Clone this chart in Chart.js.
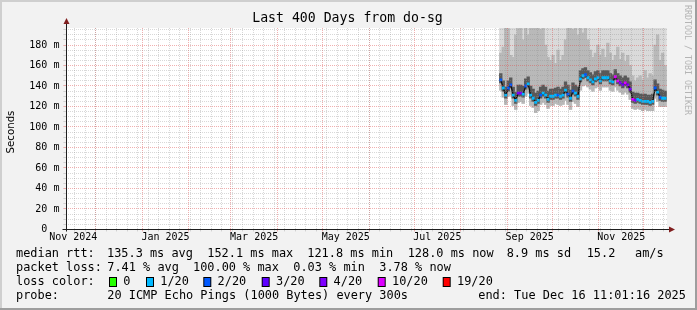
<!DOCTYPE html>
<html>
<head>
<meta charset="utf-8">
<script src="https://cdn.jsdelivr.net/npm/chart.js@4.4.1/dist/chart.umd.min.js"></script>
<style>
html, body { margin: 0; padding: 0; background: #f2f2f2; }
canvas { display: block; }
</style>
</head>
<body>
<canvas id="chart" width="697" height="310"></canvas>
<script>
// Last 400 days ending Tue Dec 16 11:01:16 2025
const endTime = Date.UTC(2025, 11, 16, 11, 1, 16);
const rangeDays = 400;
const DAY = 86400000;
const startTime = endTime - rangeDays * DAY;

// samples only exist from late Aug 2025 on (days since start of graph)
const sampleStart = 289.3;
const sampleStep = 1.658;

// median rtt (ms) per sample
const rttMedian = [146,138,131,138,141,131,126,133,133,132,140,142,131,128,124,126,131,133,131,127,
  130,130,131,131,130,131,136,132,128,135,133,130,147,150,151,148,146,144,147,148,145,148,148,148,145,
  144,149,145,143,141,143,141,137,127,126,127,126,125,125,125,124,125,138,134,129,128,128];
// fastest ping (bottom of smoke)
const rttLow = [136,129,122,130,131,121,117,124,125,123,130,133,121,119,114,116,122,124,122,118,
  121,121,123,122,121,122,126,122,117,125,123,120,136,140,141,139,137,135,138,139,136,139,139,139,136,
  135,139,136,134,132,134,132,127,118,117,118,117,116,117,116,116,116,128,125,120,120,120];
// dense smoke band around the median
const rttCoreLow = [143,135,128,135,138,128,123,130,130,129,137,139,128,125,121,123,128,130,128,124,
  127,127,128,128,127,128,133,129,125,132,130,127,144,147,148,145,143,141,144,145,142,145,145,145,142,
  141,146,142,140,138,140,138,134,124,123,124,123,122,122,122,121,122,135,131,126,125,125];
const rttCoreHigh = [152,145,139,145,148,139,134,141,141,140,147,149,140,137,133,135,139,141,139,135,
  137,137,138,139,137,139,144,141,136,143,141,139,155,157,158,155,153,151,154,155,152,155,155,155,152,
  151,156,152,150,148,150,148,144,134,133,133,132,132,132,131,131,132,146,142,137,136,135];
// upper edge of the medium smoke
const rttUpper = [172,178,200,196,170,168,190,196,200,185,200,190,200,200,200,200,195,200,180,168,
  165,170,162,175,165,170,185,200,200,195,200,190,200,192,198,185,175,168,172,180,170,176,168,182,172,
  165,170,178,166,172,164,170,160,150,145,148,150,146,155,148,152,150,180,190,165,172,160];
// slowest ping (clipped at the top)
const rttMax = [215,230,240,225,210,235,250,220,240,215,230,220,245,250,260,240,230,225,210,220,
  205,215,210,220,215,225,230,240,245,235,240,225,230,220,235,220,215,210,215,220,210,215,210,220,212,
  208,215,220,210,212,208,210,205,205,210,205,208,205,210,205,208,205,220,225,210,215,210];
// lost pings out of 20
const lossCount = [2,1,1,2,2,1,1,4,4,1,2,1,1,1,1,1,2,1,1,1,1,1,1,2,1,1,1,2,1,2,1,1,1,1,2,
  1,1,1,1,1,1,1,1,1,1,1,10,10,4,3,10,4,4,10,4,1,1,1,1,1,1,1,2,1,2,1,1];

const lossColors = {0: '#26ff00', 1: '#00b8ff', 2: '#0059ff', 3: '#5e00ff', 4: '#7e00ff', 10: '#dd00ff', 19: '#ff0000'};
const lossLegendKeys = [0, 1, 2, 3, 4, 10, 19];
const lossLegendLabels = ['0', '1/20', '2/20', '3/20', '4/20', '10/20', '19/20'];

const xLabelMonths = ['2024-11', '2025-01', '2025-03', '2025-05', '2025-07', '2025-09', '2025-11'];
const xLabels = ['Nov 2024', 'Jan 2025', 'Mar 2025', 'May 2025', 'Jul 2025', 'Sep 2025', 'Nov 2025'];
const yLabelStep = 20;
const yMinorStep = 5;
const yMax = 196.6;

const statsRtt = ['median rtt:', '135.3 ms avg', '152.1 ms max', '121.8 ms min', '128.0 ms now', '8.9 ms sd', '15.2', 'am/s'];
const statsLoss = ['packet loss:', '7.41 % avg', '100.00 % max', '0.03 % min', '3.78 % now'];
const probeText = ['probe:', '20 ICMP Echo Pings (1000 Bytes) every 300s', 'end: Tue Dec 16 11:01:16 2025'];

// ---- helpers
const toDay = t => (t - startTime) / DAY;

const gridTicks = [];
for (let y = 2024, m = 10; y < 2026; m++) {
    if (m > 11) { m = 0; y++; }
    const t = Date.UTC(y, m, 1);
    if (t > endTime) break;
    if (t >= startTime) gridTicks.push({value: toDay(t), isMajor: true});
}
for (let t = Date.UTC(2024, 10, 17); t < endTime; t += 7 * DAY) {
    gridTicks.push({value: toDay(t), isMajor: false});
}
gridTicks.sort((a, b) => a.value - b.value);

const labelTicks = xLabelMonths.map(s => {
    const [y, m] = s.split('-').map(Number);
    const a = Date.UTC(y, m - 1, 1), b = Date.UTC(y, m, 1);
    return {value: toDay((a + b) / 2)};
});

const yTicks = [];
for (let v = 0; v <= yMax; v += yMinorStep) yTicks.push({value: v, isMajor: v % yLabelStep === 0});

const sampleX = rttMedian.map((_, i) => sampleStart + i * sampleStep);
const band = (lo, hi) => sampleX.map((x, i) => ({x: x, y: [lo[i], hi[i]]}));

const gridColor = ctx => (ctx.tick && ctx.tick.isMajor) ? 'rgba(222,79,79,0.45)' : 'rgba(143,143,143,0.35)';
const MONO = 'DejaVu Sans Mono';

const decor = {
    id: 'rrdDecor',
    beforeDraw(chart) {
        const c = chart.ctx, ca = chart.chartArea, W = chart.width, H = chart.height;
        c.save();
        c.fillStyle = '#f2f2f2'; c.fillRect(0, 0, W, H);
        c.fillStyle = '#cfcfcf'; c.fillRect(0, 0, W, 2); c.fillRect(0, 0, 2, H);
        c.fillStyle = '#9e9e9e'; c.fillRect(W - 2, 0, 2, H); c.fillRect(0, H - 2, W, 2);
        c.fillStyle = '#ffffff'; c.fillRect(ca.left, ca.top, ca.right - ca.left, ca.bottom - ca.top);
        c.restore();
    },
    afterDraw(chart) {
        const c = chart.ctx, ca = chart.chartArea;
        const ax = Math.round(ca.left) + 0.5, ay = Math.round(ca.bottom) + 0.5;
        c.save();
        // axes
        c.strokeStyle = '#1f1f1f'; c.lineWidth = 1;
        c.beginPath();
        c.moveTo(ax, ay + 2); c.lineTo(ax, ca.top - 4);
        c.moveTo(ax - 4, ay); c.lineTo(ca.right + 3, ay);
        c.stroke();
        c.fillStyle = '#801f1f';
        c.beginPath(); c.moveTo(ax, ca.top - 10); c.lineTo(ax - 3, ca.top - 4); c.lineTo(ax + 3, ca.top - 4); c.closePath(); c.fill();
        c.beginPath(); c.moveTo(ca.right + 8, ay); c.lineTo(ca.right + 2, ay - 3); c.lineTo(ca.right + 2, ay + 3); c.closePath(); c.fill();

        // title
        c.fillStyle = '#000';
        c.textBaseline = 'middle';
        c.textAlign = 'center';
        c.font = '13.2px "' + MONO + '"';
        c.fillText('Last 400 Days from do-sg', 347.5, 19);

        // y title
        c.save();
        c.translate(11, 132); c.rotate(-Math.PI / 2);
        c.font = '10.2px "DejaVu Sans"';
        c.fillText('Seconds', 0, 0);
        c.restore();

        // watermark
        c.save();
        c.translate(687, 5); c.rotate(Math.PI / 2);
        c.textAlign = 'left';
        c.fillStyle = '#b4b4b4';
        c.font = '8.3px "' + MONO + '"';
        c.fillText('RRDTOOL / TOBI OETIKER', 0, 0);
        c.restore();

        // legend block
        c.textAlign = 'left';
        c.font = '11.9px "' + MONO + '"';
        const rttX = [16, 107, 207.3, 307.3, 407.7, 506.7, 586.7, 635];
        statsRtt.forEach((s, i) => c.fillText(s, rttX[i], 254.3));
        const lossX = [16, 107.3, 193, 293.3, 379.3];
        statsLoss.forEach((s, i) => c.fillText(s, lossX[i], 268.3));
        c.fillText('loss color:', 16, 282.3);
        const boxX = [109, 146, 203.3, 261.7, 319.3, 377.7, 442.7];
        lossLegendKeys.forEach((k, i) => {
            c.fillStyle = '#000';
            c.fillRect(boxX[i], 277, 8, 10);
            c.fillStyle = lossColors[k];
            c.fillRect(boxX[i] + 1, 278, 6, 8);
            c.fillStyle = '#000';
            c.fillText(lossLegendLabels[i], boxX[i] + 14.3, 282.3);
        });
        const probeX = [16, 107.3, 478.3];
        probeText.forEach((s, i) => c.fillText(s, probeX[i], 296));
        c.restore();
    }
};

Chart.defaults.font.family = MONO;

new Chart(document.getElementById('chart'), {
    type: 'bar',
    data: {
        datasets: [
            {
                type: 'line', label: 'median', order: 0,
                data: sampleX.map((x, i) => ({x: x, y: rttMedian[i]})),
                borderColor: '#111111', borderWidth: 1.3, tension: 0,
                pointStyle: 'rect', pointRadius: 2, pointBorderWidth: 0,
                pointBackgroundColor: lossCount.map(n => lossColors[n])
            },
            {label: 'core', order: 1, data: band(rttCoreLow, rttCoreHigh), backgroundColor: '#595959'},
            {label: 'mid', order: 2, data: band(rttLow, rttUpper), backgroundColor: '#b9b9b9'},
            {label: 'all', order: 3, data: band(rttLow, rttMax), backgroundColor: '#dadada'}
        ]
    },
    options: {
        responsive: false,
        devicePixelRatio: 1,
        animation: false,
        layout: {padding: {left: 0, top: 28, right: 30, bottom: 0}},
        datasets: {bar: {grouped: false, barThickness: 2.7, borderWidth: 0}},
        plugins: {legend: {display: false}, tooltip: {enabled: false}, title: {display: false}},
        scales: {
            x: {
                type: 'linear', position: 'bottom', min: 0, max: rangeDays, offset: false,
                afterFit: s => { s.height = 0; },
                afterBuildTicks: s => { s.ticks = gridTicks.map(t => ({value: t.value, isMajor: t.isMajor})); },
                ticks: {display: false},
                grid: {z: 1, offset: false, color: gridColor, tickColor: gridColor, tickLength: 2},
                border: {display: false, dash: [1, 1]}
            },
            xl: {
                type: 'linear', position: 'bottom', min: 0, max: rangeDays, offset: false,
                afterFit: s => { s.height = 310 - 229.4; },
                afterBuildTicks: s => { s.ticks = labelTicks.map(t => ({value: t.value})); },
                ticks: {autoSkip: false, maxRotation: 0, padding: 2, color: '#000', font: {size: 10},
                    callback: (v, i) => xLabels[i]},
                grid: {display: false, drawTicks: false, offset: false},
                border: {display: false}
            },
            y: {
                min: 0, max: yMax,
                afterFit: s => { s.width = 66.4; },
                afterBuildTicks: s => { s.ticks = yTicks.map(t => ({value: t.value, isMajor: t.isMajor})); },
                ticks: {autoSkip: false, padding: 4, color: '#000', font: {size: 10},
                    callback: v => v % yLabelStep === 0 ? (v === 0 ? '0  ' : v + ' m') : ''},
                grid: {z: 1, color: gridColor, tickColor: gridColor, tickLength: 3},
                border: {display: false, dash: [1, 1]}
            }
        }
    },
    plugins: [decor]
});
</script>
</body>
</html>
